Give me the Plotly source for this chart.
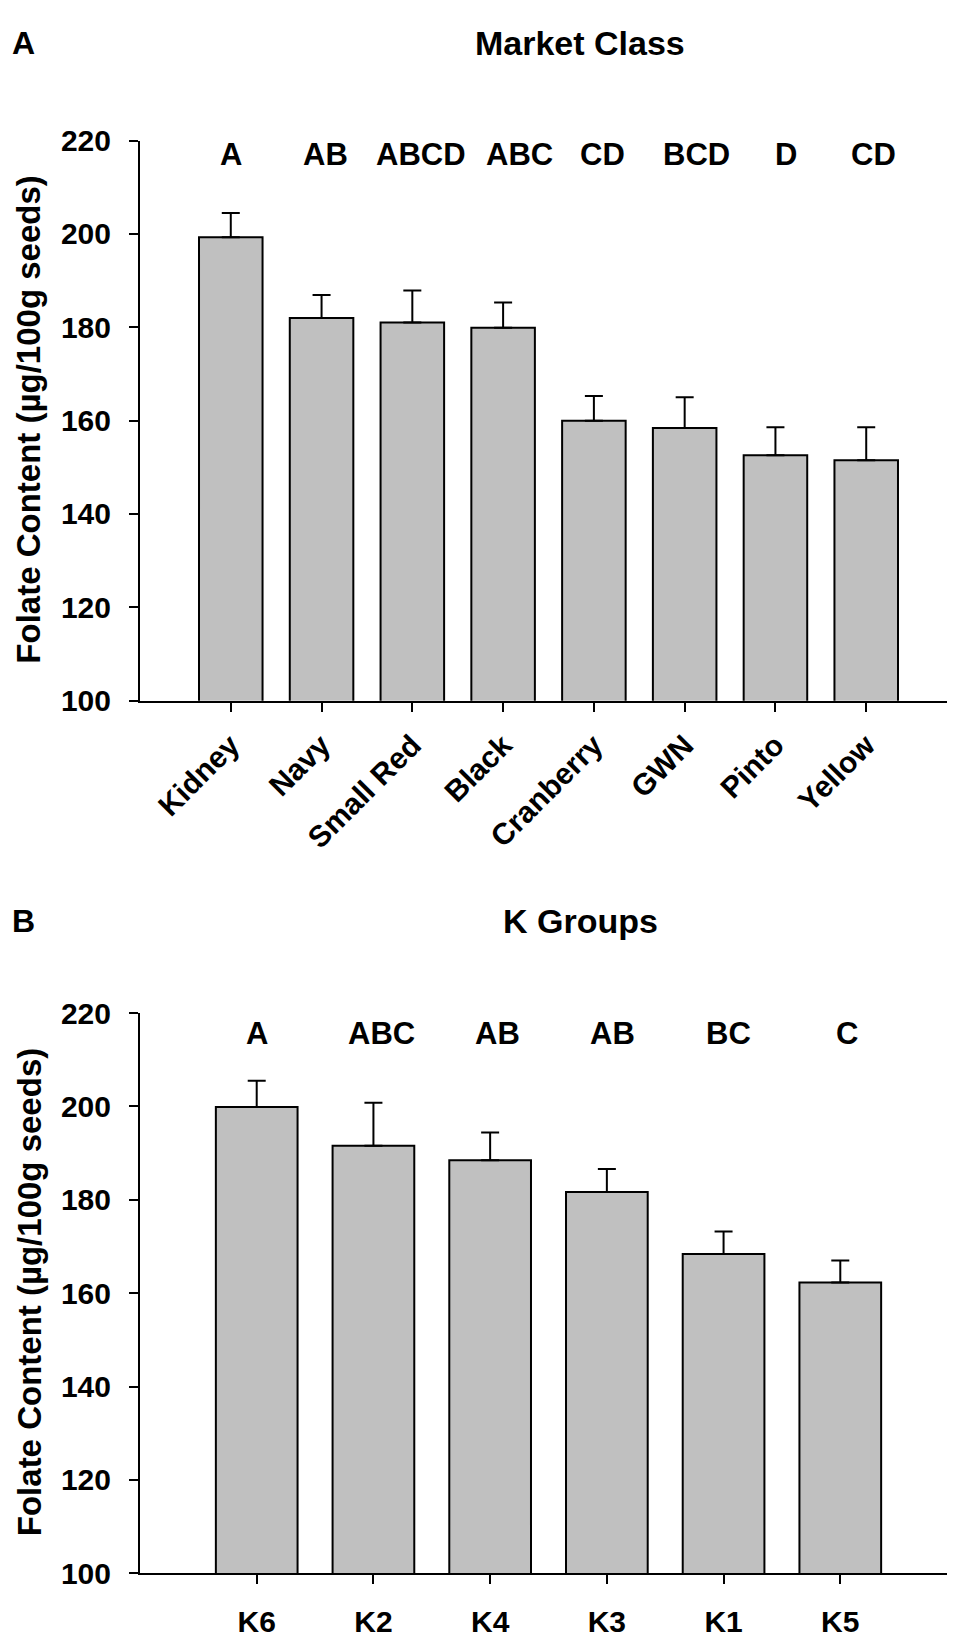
import plotly.graph_objects as go

# panel A: market classes
market = ["Kidney", "Navy", "Small Red", "Black", "Cranberry", "GWN", "Pinto", "Yellow"]
market_mean = [199.3, 182.0, 181.0, 179.9, 160.0, 158.4, 152.6, 151.5]
market_err = [5.2, 4.9, 6.9, 5.4, 5.3, 6.6, 6.0, 7.1]
market_letters = ["A", "AB", "ABCD", "ABC", "CD", "BCD", "D", "CD"]

# panel B: K groups
k_groups = ["K6", "K2", "K4", "K3", "K1", "K5"]
k_mean = [199.9, 191.6, 188.5, 181.7, 168.4, 162.3]
k_err = [5.6, 9.2, 5.9, 4.9, 4.8, 4.7]
k_letters = ["A", "ABC", "AB", "AB", "BC", "C"]

y_ticks = [100, 120, 140, 160, 180, 200, 220]

# letters in the original sit a few px right of the bar centres
market_shift = [0, 4, 9, 16, 9, 12, 11, 7]
k_shift = [0, 8, 7, 6, 5, 7]

W, H = 955, 1642
FONT = "Arial, Liberation Sans, sans-serif"
bold = dict(family=FONT, size=30, color="black", weight="bold")


def px_x(p):
    return p / W


def px_y(p):
    return 1 - p / H


def bar_trace(x, y, err, xa, ya):
    return go.Bar(
        x=x, y=y, xaxis=xa, yaxis=ya, width=0.7,
        marker=dict(color="#c0c0c0", line=dict(color="black", width=2)),
        error_y=dict(type="data", symmetric=False, array=err,
                     arrayminus=[0] * len(err), color="black",
                     thickness=2, width=9),
        showlegend=False,
    )


fig = go.Figure()
fig.add_trace(bar_trace(market, market_mean, market_err, "x", "y"))
fig.add_trace(bar_trace(k_groups, k_mean, k_err, "x2", "y2"))

axis_common = dict(showline=True, linecolor="black", linewidth=2,
                   ticks="outside", ticklen=9, tickwidth=2, tickcolor="black",
                   showgrid=False, zeroline=False, tickfont=bold)

fig.update_layout(
    width=W, height=H,
    margin=dict(l=0, r=0, t=0, b=0),
    paper_bgcolor="white", plot_bgcolor="white",
    xaxis=dict(axis_common, domain=[px_x(132), px_x(949)], anchor="y",
               type="category", range=[-1, len(market)], tickangle=-45,
               ticklabelstandoff=4),
    yaxis=dict(axis_common, domain=[px_y(690), px_y(118)], anchor="x",
               range=[100, 220], tickvals=y_ticks, ticklabelstandoff=12),
    xaxis2=dict(axis_common, domain=[px_x(132), px_x(949)], anchor="y2",
                type="category", range=[-1, len(k_groups)],
                ticklabelstandoff=12),
    yaxis2=dict(axis_common, domain=[px_y(1581), px_y(1009)], anchor="x2",
                range=[100, 220], tickvals=y_ticks, ticklabelstandoff=12),
)

ann = []
letter_font = dict(bold, size=31)
# significance letters
for c, t, s in zip(market, market_letters, market_shift):
    ann.append(dict(x=c, y=217, xref="x", yref="y", text=t, showarrow=False,
                    xshift=s, xanchor="center", yanchor="middle",
                    font=letter_font))
for c, t, s in zip(k_groups, k_letters, k_shift):
    ann.append(dict(x=c, y=215.7, xref="x2", yref="y2", text=t, showarrow=False,
                    xshift=s, xanchor="center", yanchor="middle",
                    font=letter_font))

# panel labels, titles and y titles
ytitle = "Folate Content (µg/100g seeds)"
for lab, title, yc, ymid in [("A", "Market Class", 18, 403),
                             ("B", "K Groups", 915, 1294)]:
    ann.append(dict(x=px_x(15), y=px_y(yc), xref="paper", yref="paper",
                    text=lab, showarrow=False, xanchor="center",
                    yanchor="middle", font=dict(bold, size=32)))
    ann.append(dict(x=px_x(572), y=px_y(yc), xref="paper", yref="paper",
                    text=title, showarrow=False, xanchor="center",
                    yanchor="middle", font=dict(bold, size=34)))
    ann.append(dict(x=px_x(21), y=px_y(ymid), xref="paper", yref="paper",
                    text=ytitle, textangle=-90, showarrow=False,
                    xanchor="center", yanchor="middle",
                    font=dict(bold, size=33)))

fig.update_layout(annotations=ann)

fig.write_html("out.html")
